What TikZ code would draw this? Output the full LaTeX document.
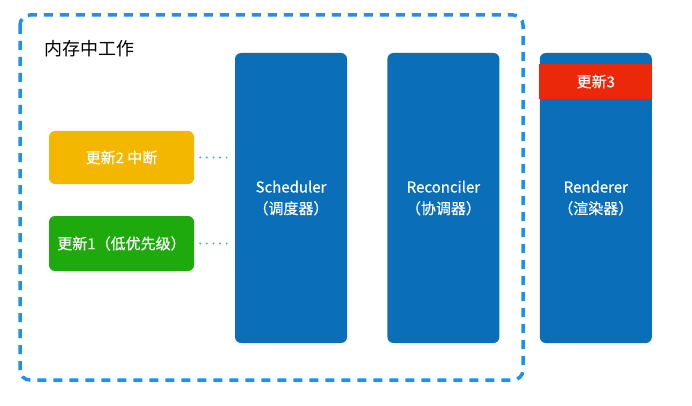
\documentclass[tikz,border=0pt]{standalone}
\usepackage{fontspec}
\setmainfont{Noto Sans CJK SC}
\newfontfamily\boxfont{Noto Sans CJK SC}[FakeBold=0.6]
\usetikzlibrary{positioning}
\definecolor{stageblue}{HTML}{0B6EB8}
\definecolor{frameblue}{HTML}{1E90F0}
\definecolor{dotblue}{HTML}{4AA8F0}
\definecolor{updyellow}{HTML}{F3B700}
\definecolor{updgreen}{HTML}{1EAA0C}
\definecolor{updred}{HTML}{EC280A}
\tikzset{%
            base/.style = {rectangle, rounded corners=6pt, draw=none, text=white,
                           inner sep=0pt, align=center,
                           font=\boxfont\fontsize{15}{21.5}\selectfont},
  stage/.style = {base, fill=stageblue, minimum width=112pt, minimum height=290pt},
  upd1/.style  = {base, fill=updyellow, minimum width=145pt, minimum height=53pt},
  upd2/.style  = {base, fill=updgreen,  minimum width=145pt, minimum height=55pt},
  upd3/.style  = {base, fill=updred, rounded corners=0pt, minimum width=113pt, minimum height=35pt},
  frame/.style = {draw=frameblue, line width=3.5pt, rounded corners=10pt,
                  dash pattern=on 9pt off 7pt},
  link/.style  = {draw=dotblue, line width=2.2pt, line cap=round,
                  dash pattern=on 0pt off 6.6pt, shorten <=6pt, shorten >=7pt},
}
\begin{document}
\begin{tikzpicture}[x=1pt, y=-1pt]
  \useasboundingbox (0,0) rectangle (692,406);

  \draw[frame] (20,15) rectangle (523,380);
  \node (title) [anchor=west, font=\fontsize{18}{22}\selectfont] at (41,49) {内存中工作};

  \node (onSched) [stage] at (291,198)                {Scheduler\\（调度器）};
  \node (onRecon) [stage, right=40pt of onSched]      {Reconciler\\（协调器）};
  \node (onRend)  [stage, right=40pt of onRecon]      {Renderer\\（渲染器）};
  \node (onUpd3)  [upd3, below=11pt of onRend.north]  {更新3};

  \node (onUpd2)  [upd1] at (121.5,157.5)             {更新2 中断};
  \node (onUpd1)  [upd2] at (121.5,243.5)             {更新1（低优先级）};

  \draw[link] (onUpd2) -- (onUpd2 -| onSched.west);
  \draw[link] (onUpd1) -- (onUpd1 -| onSched.west);
\end{tikzpicture}
\end{document}
